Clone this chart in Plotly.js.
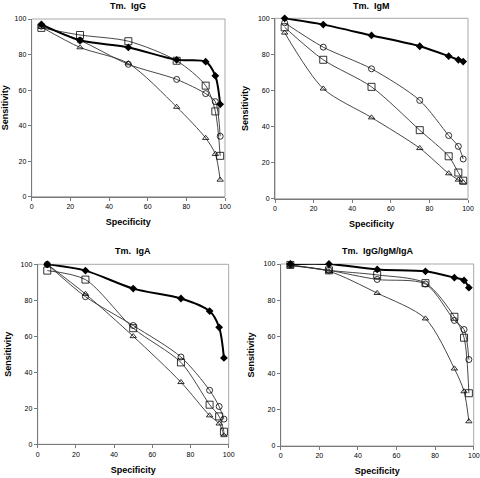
<!DOCTYPE html>
<html>
<head>
<meta charset="utf-8">
<script src="https://cdn.plot.ly/plotly-3.0.1.min.js"></script>
<style>html,body{margin:0;padding:0;background:#fff;}#chart{width:480px;height:478px;}</style>
</head>
<body>
<div id="chart"></div>
<script>
// Specificity values (x) shared by all panels
const specificity = [5, 25, 50, 75, 90, 95, 97.5];

const panelTitles = ["Tm.  IgG", "Tm.  IgM", "Tm.  IgA", "Tm.  IgG/IgM/IgA"];
const tickValues = [0, 20, 40, 60, 80, 100];

// Panel 1: Tm. IgG
const igg_filled   = [97, 88, 84, 77, 76, 68, 52];
const igg_square   = [95, 91, 87.5, 76.5, 62.5, 48, 23];
const igg_circle   = [96, 88, 74.5, 66, 58, 53.5, 34];
const igg_triangle = [95.5, 84, 75, 50.5, 33, 24, 9.5];

// Panel 2: Tm. IgM
const igm_filled   = [100, 96.5, 90.5, 84.5, 79, 77, 76];
const igm_circle   = [97.5, 84, 72, 54.5, 35, 29, 22];
const igm_square   = [95, 77, 62, 38, 23.5, 14.5, 10];
const igm_triangle = [92, 61, 45, 28, 14, 10.5, 9];

// Panel 3: Tm. IgA
const iga_filled   = [100, 96.5, 86.5, 81, 74, 65, 48];
const iga_circle   = [100, 82, 66, 48.5, 30, 21, 14];
const iga_square   = [96.5, 91.5, 64.5, 45.5, 22, 15.5, 7];
const iga_triangle = [100, 83.5, 60, 34.5, 16, 11.5, 5];

// Panel 4: Tm. IgG/IgM/IgA
const all_filled   = [100, 100, 97, 96, 92.5, 91, 87];
const all_square   = [99.5, 96.5, 94, 89.5, 71, 59.5, 29];
const all_circle   = [99.5, 96.5, 91.5, 89, 69, 64, 47.5];
const all_triangle = [99, 96, 84, 70, 42.5, 30, 13.5];

const panels = [
  {filled: igg_filled, circle: igg_circle, square: igg_square, triangle: igg_triangle},
  {filled: igm_filled, circle: igm_circle, square: igm_square, triangle: igm_triangle},
  {filled: iga_filled, circle: iga_circle, square: iga_square, triangle: iga_triangle},
  {filled: all_filled, circle: all_circle, square: all_square, triangle: all_triangle}
];

// pixel boxes [left, right, top, bottom]
const W = 480, H = 478;
const boxes = [
  [31.7, 225, 19, 196.7],
  [275, 468, 18.3, 198.7],
  [37.7, 228.7, 264.3, 444.3],
  [280.7, 473.7, 264, 446]
];

const FONT = "Liberation Sans, Arial, sans-serif";
const traces = [];
const layout = {
  width: W, height: H,
  margin: {l: 0, r: 0, t: 0, b: 0},
  paper_bgcolor: "#fff", plot_bgcolor: "#fff",
  showlegend: false,
  font: {family: FONT, size: 7, color: "#000"},
  shapes: [], annotations: []
};

const styles = {
  triangle: {symbol: "triangle-up-open", size: 5.5, lw: 0.9, color: "#333"},
  square:   {symbol: "square-open", size: 7, lw: 0.9, color: "#333"},
  circle:   {symbol: "circle-open", size: 6, lw: 0.9, color: "#333"},
  filled:   {symbol: "diamond", size: 6, lw: 2, color: "#000"}
};

panels.forEach((p, i) => {
  const n = i + 1;
  const xa = "x" + (n === 1 ? "" : n), ya = "y" + (n === 1 ? "" : n);
  const [l, r, t, b] = boxes[i];
  ["triangle", "square", "circle", "filled"].forEach(k => {
    const s = styles[k];
    traces.push({
      type: "scatter", mode: "lines+markers",
      x: specificity, y: p[k], xaxis: xa, yaxis: ya,
      cliponaxis: false,
      line: {color: s.color, width: s.lw, shape: "spline", smoothing: 0.8},
      marker: k === "filled"
        ? {symbol: s.symbol, size: s.size, color: "#000", line: {width: 0}}
        : {symbol: s.symbol, size: s.size, color: "#000", line: {width: 0.8, color: "#000"}}
    });
  });
  const axBase = {
    range: [0, 100], dtick: 20, tick0: 0,
    showgrid: false, zeroline: false,
    showline: true, linecolor: "#7a7a7a", linewidth: 1,
    ticks: "outside", ticklen: 3, tickwidth: 1, tickcolor: "#7a7a7a",
    tickfont: {family: FONT, size: 7, color: "#000"},
    ticklabeloverflow: "allow",
    fixedrange: true
  };
  const xExtra = {
    domain: [l / W, r / W], anchor: ya,
    title: {text: "<b>Specificity</b>", font: {family: FONT, size: 9}, standoff: 9}
  };
  if (n === 4) {
    // last label of this panel sits at the page edge; it is written as an annotation below
    xExtra.tickmode = "array";
    xExtra.tickvals = tickValues;
    xExtra.ticktext = tickValues.map(v => v === 100 ? "" : String(v));
  }
  layout["xaxis" + (n === 1 ? "" : n)] = Object.assign({}, axBase, xExtra);
  layout["yaxis" + (n === 1 ? "" : n)] = Object.assign({}, axBase, {
    domain: [1 - b / H, 1 - t / H], anchor: xa,
    title: {text: "<b>Sensitivity</b>", font: {family: FONT, size: 9}, standoff: 7}
  });
  layout.shapes.push({
    type: "rect", xref: xa + " domain", yref: ya + " domain",
    x0: 0, x1: 1, y0: 0, y1: 1, layer: "below",
    line: {color: "#a8a8a8", width: 1}
  });
  layout.annotations.push({
    xref: "paper", yref: "paper",
    x: ((l + r) / 2) / W, y: 1 - (i < 2 ? 6 : 251) / H,
    xanchor: "center", yanchor: "middle", showarrow: false,
    text: "<b>" + panelTitles[i] + "</b>",
    font: {family: FONT, size: 9, color: "#000"}
  });
});

layout.annotations.push({
  xref: "x4", yref: "y4 domain", x: tickValues[tickValues.length - 1], y: 0,
  xanchor: "center", yanchor: "top", yshift: -5, showarrow: false, borderpad: 0,
  text: String(tickValues[tickValues.length - 1]),
  font: {family: FONT, size: 7, color: "#000"}
});

Plotly.newPlot("chart", traces, layout, {staticPlot: true, displayModeBar: false});
</script>
</body>
</html>
